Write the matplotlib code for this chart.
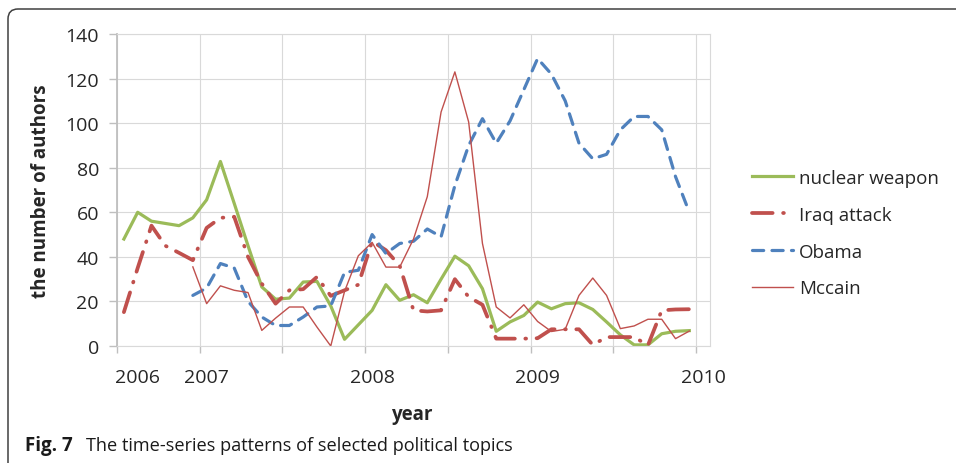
import matplotlib.pyplot as plt
from matplotlib.patches import FancyBboxPatch
import numpy as np

nan = np.nan

# monthly categories (Jul 2006 ... Dec 2009), one empty slot at the end
months = list(range(42))
n_cats = 43
year_ticks = [1, 6, 18, 30, 42]
year_labels = ['2006', '2007', '2008', '2009', '2010']

nuclear = [48, 60, 56, 55, 54, 57.5, 65.6, 82.8, 64, 45, 26.5, 21, 21.5, 28.7, 29, 18,
           3, 9.5, 16, 27.5, 20.5, 23, 19.4, 30, 40.3, 36, 25.7, 6.6, 10.8, 13.7, 19.7,
           16.7, 19, 19.4, 16.4, 10.8, 5, 0.5, 0.5, 5.5, 6.6, 6.9]
iraq = [15.2, 35, 54, 45, 41.8, 38.5, 53, 57.5, 58, 40, 28, 19, 25, 25.5, 31, 22.5,
        25, 27.5, 47, 43, 36, 16, 15.5, 16, 30, 22, 18.5, 3.3, 3.3, 3.3, 3.5, 7.5,
        7.5, 7.5, 0.5, 4, 4, 4, 0.3, 16, 16.4, 16.5]
obama = [nan] * 5 + [22.7, 26, 37, 35, 20, 13, 9.2, 9.2, 13, 17.5, 18, 33, 34, 50, 41.5,
                     46, 47, 52.5, 49, 72, 90, 102, 91, 101, 115, 129, 122, 110, 91, 84,
                     86, 97, 103, 103, 97, 76, 60]
mccain = [nan] * 5 + [35.5, 19, 27, 25, 24, 7, 12.5, 17.5, 17.5, 8.5, 0, 24.5, 40.5, 46.5,
                      35.4, 35.4, 48, 67, 105, 123, 100.5, 46, 17.5, 12.6, 18.5, 11, 6.5,
                      7.5, 22.7, 30.5, 22.7, 7.8, 9, 12, 12, 3.3, 6.7]

green = '#9bbb59'
red = '#c0504d'
blue = '#4f81bd'
txt = '#262626'

plt.rcParams['font.family'] = ['Open Sans', 'DejaVu Sans']

fig = plt.figure(figsize=(9.56, 4.64), dpi=100)
ax = fig.add_axes([117 / 956, 117 / 464, 593 / 956, 312 / 464])

ax.plot(months, nuclear, color=green, lw=2.3, label='nuclear weapon', solid_joinstyle='round')
l_iraq, = ax.plot(months, iraq, color=red, lw=2.7, label='Iraq attack')
l_iraq.set_dashes([5.5, 2.8, 0.2, 2.8])
l_iraq.set_dash_capstyle('round')
l_ob, = ax.plot(months, obama, color=blue, lw=2.3, label='Obama')
l_ob.set_dashes([3.5, 2.6])
l_ob.set_dash_capstyle('round')
ax.plot(months, mccain, color=red, lw=1.0, label='Mccain')

ax.set_xlim(-0.5, n_cats - 0.5)
ax.set_ylim(0, 140)
ax.set_yticks(range(0, 141, 20))

bounds = np.arange(-0.5, n_cats - 0.5, 6)
ax.set_xticks(bounds, minor=True)
ax.set_xticks(year_ticks)
ax.set_xticklabels(year_labels)
ax.tick_params(axis='x', which='major', length=0, pad=16, labelsize=14, labelcolor=txt)
ax.tick_params(axis='x', which='minor', length=5, width=1, color='#bfbfbf')
ax.tick_params(axis='y', length=6, width=1, color='#bfbfbf', pad=7, labelsize=14, labelcolor=txt)

ax.grid(True, which='minor', axis='x', color='#d9d9d9', lw=0.8)
ax.grid(True, which='major', axis='y', color='#d9d9d9', lw=0.8)
ax.set_axisbelow(True)

for s in ['top', 'right']:
    ax.spines[s].set_color('#d9d9d9')
    ax.spines[s].set_linewidth(0.8)
ax.spines['left'].set_color('#bfbfbf')
ax.spines['left'].set_linewidth(1.3)
ax.spines['bottom'].set_color('#d9d9d9')
ax.spines['bottom'].set_linewidth(0.8)

ax.set_ylabel('the number of authors', fontsize=13.5, fontweight='bold', color=txt)
ax.yaxis.set_label_coords(-0.112, 0.5)
ax.set_xlabel('year', fontsize=13.5, fontweight='bold', color=txt)
ax.xaxis.set_label_coords(0.497, -0.185)

ax.legend(loc='upper left', bbox_to_anchor=(752 / 956, 1 - 170 / 464),
          bbox_transform=fig.transFigure, frameon=False, fontsize=13.5,
          handlelength=2.2, handletextpad=0.3, labelspacing=1.0,
          borderpad=0, borderaxespad=0, labelcolor=txt)

# figure frame (rounded corner at top left)
frame = FancyBboxPatch((8, -30), 1100, 484, boxstyle='round,pad=0,rounding_size=10',
                       transform=None, fill=False, edgecolor='#404040', lw=1.1)
fig.patches.append(frame)

fig.text(25 / 956, 1 - 446 / 464, 'Fig. 7', fontsize=13.5, fontweight='bold',
         va='center', color='#1a1a1a')
fig.text(86 / 956, 1 - 446 / 464, 'The time-series patterns of selected political topics',
         fontsize=13.1, va='center', color='#1a1a1a')

fig.savefig('out.png', dpi=100)
